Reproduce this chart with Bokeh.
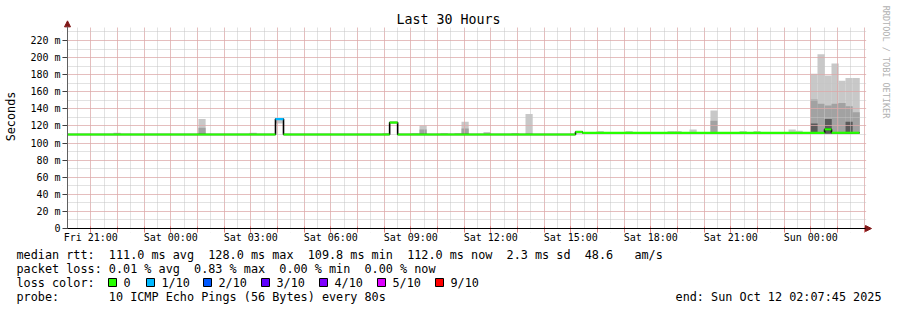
import numpy as np
from bokeh.plotting import figure
from bokeh.models import Range1d, FixedTicker, Label, Arrow, NormalHead, BoxAnnotation
from bokeh.layouts import column
from bokeh.core.properties import value
from bokeh.embed import file_html
from bokeh.resources import INLINE

FONT = "DejaVu Sans Mono"

# ---------------- data (x = hours since Fri 20:07:45) ----------------
x_tick_hours = [0.8708, 3.8708, 6.8708, 9.8708, 12.8708, 15.8708, 18.8708, 21.8708, 24.8708, 27.8708]
x_tick_labels = ["Fri 21:00", "Sat 00:00", "Sat 03:00", "Sat 06:00", "Sat 09:00",
                 "Sat 12:00", "Sat 15:00", "Sat 18:00", "Sat 21:00", "Sun 00:00"]
y_ticks = [0, 20, 40, 60, 80, 100, 120, 140, 160, 180, 200, 220]
y_tick_labels = ["0", "20 m", "40 m", "60 m", "80 m", "100 m", "120 m", "140 m",
                 "160 m", "180 m", "200 m", "220 m"]

# median rtt (ms) as steps
med_edges = [0.0, 7.80, 8.10, 12.08, 12.38, 19.05, 19.31, 28.39, 28.65, 29.70]
med_vals = [110.0, 128.0, 110.0, 124.0, 110.0, 113.0, 112.0, 116.0, 112.0]
med_loss = [0, 1, 0, 0, 0, 0, 0, 0, 0]

# smoke bins (start hour), lowest ping, highest ping, mid band top, dark band top (ms)
smoke_start = [1.725, 4.91, 6.825, 7.80, 11.81, 12.90, 13.20, 13.99, 14.51, 14.775,
               15.60, 16.65, 17.175, 19.05, 19.84, 20.925, 22.50, 22.76, 23.325, 24.11,
               25.20, 25.725, 27.04, 27.30, 27.86, 28.125, 28.39, 28.65, 28.91, 29.175, 29.44]
smoke_lo = [110, 110, 110, 123, 110, 110, 110, 110, 110, 110,
            110, 110, 110, 111, 111, 111, 111, 111, 111, 111,
            111, 111, 111, 111, 111, 111, 111, 111, 111, 111, 111]
smoke_hi = [112, 128, 112, 128, 111.5, 111.5, 120.5, 111.5, 111.5, 125,
            113, 111.5, 134, 114.5, 114, 114, 114, 114, 116, 138,
            114, 114, 116, 114.5, 181, 204, 179, 193, 173, 176, 176]
smoke_mid = [110, 118, 110, 123, 110, 110, 116, 110, 110, 117,
             110, 110, 110, 111, 111, 111, 111, 111, 111, 126,
             111, 111, 111, 111, 151, 146, 144, 146, 147, 143, 136]
smoke_dark = [110, 110, 110, 123, 110, 110, 110, 110, 110, 110,
              110, 110, 110, 111, 111, 111, 111, 111, 111, 111,
              111, 111, 111, 111, 123, 111, 128, 111, 111, 125, 111]
smoke_width = 0.27

loss_colors = ["#26ff00", "#00b8ff", "#0059ff", "#5e00ff", "#7e00ff", "#dd00ff", "#ff0000"]
loss_labels = ["0", "1/10", "2/10", "3/10", "4/10", "5/10", "9/10"]

legend_lines = [
    "median rtt:  111.0 ms avg  128.0 ms max  109.8 ms min  112.0 ms now  2.3 ms sd  48.6   am/s",
    "packet loss: 0.01 % avg  0.83 % max  0.00 % min  0.00 % now",
    "loss color:",
    "probe:       10 ICMP Echo Pings (56 Bytes) every 80s",
]
end_text = "end: Sun Oct 12 02:07:45 2025"


def nb(t):
    return t.replace(" ", "\u00a0")


# ---------------- main figure ----------------
PX_H = 26.6667   # px per hour
PX_MS = 0.8545   # px per ms
p = figure(width=897, height=248, output_backend="svg", toolbar_location=None,
           x_range=Range1d(-5 / PX_H, 830 / PX_H), y_range=Range1d(-4 / PX_MS, 228 / PX_MS),
           min_border_left=62, min_border_right=0, min_border_top=0, min_border_bottom=16)
p.background_fill_color = "white"
p.border_fill_color = "white"
p.outline_line_color = None

s = np.array(smoke_start)
for top, col in ((smoke_hi, "#c8c8c8"), (smoke_mid, "#a2a2a2"), (smoke_dark, "#5a5a5a")):
    p.quad(left=s, right=s + smoke_width, bottom=smoke_lo, top=top,
           fill_color=col, line_color=None, level="image")

# grids
hour_ticks = [0.8708 + k for k in range(30)]
half_ticks = [0.3708 + 0.5 * k for k in range(60)]
p.xgrid.ticker = FixedTicker(ticks=hour_ticks, minor_ticks=half_ticks)
p.ygrid.ticker = FixedTicker(ticks=y_ticks[1:], minor_ticks=list(range(10, 240, 10)))
for g in (p.xgrid, p.ygrid):
    g.level = "underlay"
    g.grid_line_color = "#e99a9a"
    g.grid_line_dash = "1 1"
    g.grid_line_width = 1
    g.minor_grid_line_color = "#c4c4c4"
    g.minor_grid_line_dash = "1 1"
    g.minor_grid_line_width = 1

# white masks outside the graph area
for kw in (dict(bottom=235.3), dict(left=29.95), dict(top=0), dict(right=0)):
    p.add_layout(BoxAnnotation(fill_color="white", fill_alpha=1, line_color=None,
                               level="glyph", **kw))

# median line
step_x, step_y = [], []
for i, v in enumerate(med_vals):
    step_x += [med_edges[i], med_edges[i + 1]]
    step_y += [v, v]
p.line(step_x, step_y, line_color="#000000", line_width=1.6, level="annotation")
p.segment(x0=med_edges[:-1], x1=med_edges[1:], y0=med_vals, y1=med_vals,
          line_color=[loss_colors[k] for k in med_loss], line_width=2.2, level="annotation")

# axes
xa = p.xaxis[0]
xa.ticker = FixedTicker(ticks=x_tick_hours, minor_ticks=hour_ticks)
xa.major_label_overrides = {t: l for t, l in zip(x_tick_hours, x_tick_labels)}
xa.major_label_text_font = FONT
xa.major_label_text_font_size = "10px"
xa.major_label_text_color = "#000000"
xa.axis_line_color = None
xa.major_tick_line_color = "#e08080"
xa.minor_tick_line_color = "#e08080"
xa.major_tick_in = 6
xa.major_tick_out = 0
xa.minor_tick_in = 6
xa.minor_tick_out = 0
xa.major_label_standoff = -1

ya = p.yaxis[0]
ya.ticker = FixedTicker(ticks=y_ticks)
ya.major_label_overrides = {t: l for t, l in zip(y_ticks, y_tick_labels)}
ya.major_label_text_font = FONT
ya.major_label_text_font_size = "10px"
ya.major_label_text_color = "#000000"
ya.axis_line_color = None
ya.major_tick_line_color = "#404040"
ya.major_tick_in = 5
ya.major_tick_out = 0
ya.minor_tick_in = 0
ya.minor_tick_out = 0
ya.major_label_standoff = 2
ya.axis_label = "Seconds"
ya.axis_label_text_font = FONT
ya.axis_label_text_font_size = "11.8px"
ya.axis_label_text_font_style = "normal"
ya.axis_label_text_color = "#000000"
ya.axis_label_standoff = 9

# axis arrows
head = dict(size=6, fill_color="#801818", line_color="#801818")
p.add_layout(Arrow(x_start=0, y_start=0, x_end=0, y_end=243, line_color="#606060", line_width=1,
                   end=NormalHead(**head)))
p.add_layout(Arrow(x_start=0, y_start=0, x_end=30.15, y_end=0, line_color="#000000", line_width=1,
                   end=NormalHead(**head)))

# texts
p.add_layout(Label(x=14.2875, y=244.4, text="Last 30 Hours", text_font=FONT,
                   text_font_size="13.3px", text_align="center", text_baseline="middle",
                   text_color="#000000"))
p.add_layout(Label(x=30.71, y=260.7, text="RRDTOOL / TOBI OETIKER", text_font=FONT,
                   angle=-np.pi / 2, text_font_size="8.5px", text_align="left",
                   text_baseline="middle", text_color="#b0b0b0"))

# ---------------- legend figure ----------------
q = figure(width=897, height=62, output_backend="svg", toolbar_location=None,
           x_range=Range1d(0, 897), y_range=Range1d(62, 0),
           min_border_left=0, min_border_right=0, min_border_top=0, min_border_bottom=0,
           x_axis_type=None, y_axis_type=None)
q.frame_align = False
p.frame_align = False
q.grid.visible = False
q.outline_line_color = None
q.background_fill_color = "white"
q.border_fill_color = "white"

q.text(x=[16] * 4, y=[6, 20, 34, 48], text=[nb(t) for t in legend_lines], text_font=value(FONT),
       text_font_size="11.8px", text_baseline="middle", text_color="#000000")
q.text(x=[881], y=[48], text=[nb(end_text)], text_font=value(FONT),
       text_font_size="11.8px", text_baseline="middle", text_align="right", text_color="#000000")

sw_left = np.array([108, 146, 203, 261, 319, 377, 435])
q.quad(left=sw_left, right=sw_left + 8, top=30, bottom=38, fill_color=loss_colors,
       line_color="#000000", line_width=1)
q.text(x=sw_left + 15, y=[34] * 7, text=loss_labels, text_font=value(FONT),
       text_font_size="11.8px", text_baseline="middle", text_color="#000000")

layout = column(p, q, spacing=0)
open("out.html", "w").write(file_html(layout, INLINE))
